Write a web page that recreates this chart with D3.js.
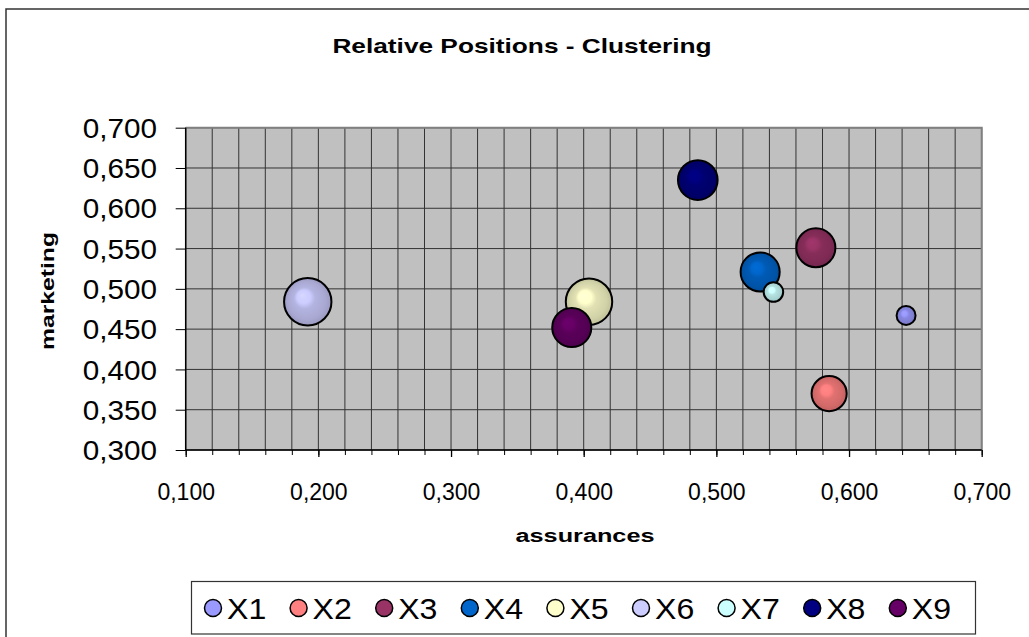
<!DOCTYPE html>
<html>
<head>
<meta charset="utf-8">
<script src="https://cdn.jsdelivr.net/npm/d3@7"></script>
<style>
  html, body { margin: 0; padding: 0; background: #fff; }
  svg { display: block; font-family: Arial, "Liberation Sans", sans-serif; }
</style>
</head>
<body>
<div id="view"></div>
<script>
// ---- data ----
const series     = ["X1", "X2", "X3", "X4", "X5", "X6", "X7", "X8", "X9"];
const assurances = [0.643, 0.585, 0.575, 0.533, 0.404, 0.192, 0.543, 0.486, 0.391];
const marketing  = [0.467, 0.370, 0.551, 0.521, 0.484, 0.484, 0.496, 0.635, 0.452];
const bubbleSize = [0.16, 0.55, 0.68, 0.68, 0.96, 1.00, 0.17, 0.70, 0.68];
const colors     = ["#9999FF", "#FF8080", "#993366", "#0066CC", "#FFFFCC",
                    "#CCCCFF", "#CCFFFF", "#000080", "#660066"];
const xTickValues = [0.1, 0.2, 0.3, 0.4, 0.5, 0.6, 0.7];
const yTickValues = [0.30, 0.35, 0.40, 0.45, 0.50, 0.55, 0.60, 0.65, 0.70];

const title  = "Relative Positions - Clustering";
const xTitle = "assurances";
const yTitle = "marketing";

(function () {
  const W = 1029, H = 637;
  const P = { l: 185.7, t: 127.7, r: 981.7, b: 450 };

  const fr = d3.formatLocale({ decimal: ",", thousands: ".", grouping: [3], currency: ["", ""] });
  const fmt = fr.format(".3f");

  const data = series.map((s, i) => ({
    name: s, x: assurances[i], y: marketing[i], size: bubbleSize[i], color: colors[i]
  }));

  const x = d3.scaleLinear().domain([0.1, 0.7]).range([P.l, P.r]);
  const y = d3.scaleLinear().domain([0.3, 0.7]).range([P.b, P.t]);
  const r = d3.scaleSqrt().domain([0, 1]).range([0, 23.7]);

  const svg = d3.select("#view").append("svg")
    .attr("width", W).attr("height", H);

  // chart frame (runs off right/bottom edge)
  svg.append("rect")
    .attr("x", 6).attr("y", 9)
    .attr("width", W + 20).attr("height", H + 20)
    .attr("fill", "#fff")
    .attr("stroke", "#333").attr("stroke-width", 1.5);

  // gradients for 3-D bubbles
  const defs = svg.append("defs");
  data.forEach((d, i) => {
    const c = d3.color(d.color);
    const g = defs.append("radialGradient")
      .attr("id", "bub" + i)
      .attr("cx", "50%").attr("cy", "50%").attr("r", "50%")
      .attr("fx", "38%").attr("fy", "36%");
    g.append("stop").attr("offset", "0%").attr("stop-color", c.brighter(0.15));
    g.append("stop").attr("offset", "28%").attr("stop-color", c);
    g.append("stop").attr("offset", "45%").attr("stop-color", c.darker(0.35));
    g.append("stop").attr("offset", "80%").attr("stop-color", c.darker(0.55));
    g.append("stop").attr("offset", "100%").attr("stop-color", c.darker(0.8));
  });

  // plot area
  svg.append("rect")
    .attr("x", P.l).attr("y", P.t)
    .attr("width", P.r - P.l).attr("height", P.b - P.t)
    .attr("fill", "#C0C0C0");

  const grid = svg.append("g").attr("stroke", "#333").attr("stroke-width", 1);
  grid.selectAll("line.v")
    .data(x.ticks(30))
    .join("line")
    .attr("class", "v")
    .attr("x1", d => x(d)).attr("x2", d => x(d))
    .attr("y1", P.t).attr("y2", P.b);
  grid.selectAll("line.h")
    .data(yTickValues)
    .join("line")
    .attr("class", "h")
    .attr("x1", P.l).attr("x2", P.r)
    .attr("y1", d => y(d)).attr("y2", d => y(d));

  // border top/right gray
  svg.append("path")
    .attr("d", `M${P.l},${P.t}H${P.r}V${P.b}`)
    .attr("fill", "none").attr("stroke", "#808080").attr("stroke-width", 2);

  // x axis: minor + major ticks
  svg.append("g")
    .attr("transform", `translate(0,${P.b})`)
    .call(d3.axisBottom(x).tickValues(x.ticks(30)).tickSize(5).tickFormat(""))
    .call(g => g.select(".domain").remove())
    .selectAll("line").attr("stroke", "#000");

  const xAxis = svg.append("g")
    .attr("transform", `translate(0,${P.b})`)
    .call(d3.axisBottom(x).tickValues(xTickValues).tickSize(7).tickFormat(fmt).tickPadding(27));
  xAxis.select(".domain").remove();
  xAxis.selectAll("line").attr("stroke", "#000").attr("stroke-width", 1.3);
  xAxis.selectAll("text")
    .attr("fill", "#000")
    .style("font-size", "23px");

  const YS = 1.1;
  const yAxis = svg.append("g")
    .attr("transform", `translate(${P.l},0)`)
    .call(d3.axisLeft(y).tickValues(yTickValues).tickSize(10).tickFormat(fmt));
  yAxis.select(".domain").remove();
  yAxis.selectAll("line").attr("stroke", "#000");
  yAxis.selectAll("text")
    .attr("fill", "#000")
    .attr("x", -28.7 / YS)
    .attr("dy", "0.36em")
    .style("font-size", "27px")
    .attr("transform", `scale(${YS},1)`);

  // axis lines
  svg.append("path")
    .attr("d", `M${P.l},${P.t}V${P.b}H${P.r}`)
    .attr("fill", "none").attr("stroke", "#000").attr("stroke-width", 1.5);

  // bubbles
  svg.append("g")
    .selectAll("circle")
    .data(data)
    .join("circle")
    .attr("cx", d => x(d.x))
    .attr("cy", d => y(d.y))
    .attr("r", d => r(d.size))
    .attr("fill", (d, i) => `url(#bub${i})`)
    .attr("stroke", "#000")
    .attr("stroke-width", 2);

  // stretched text helper
  const label = (tx, ty, txt, size, sx, rot) =>
    svg.append("text")
      .attr("transform", `translate(${tx},${ty})` + (rot ? ` rotate(${rot})` : "") + ` scale(${sx},1)`)
      .attr("text-anchor", "middle")
      .style("font-size", size + "px")
      .style("font-weight", "bold")
      .attr("fill", "#000")
      .text(txt);

  label(522, 53, title, 21, 1.25);
  label(585, 542, xTitle, 19, 1.33);
  label(54, 291, yTitle, 19, 1.3, -90);

  // legend
  const lg = svg.append("g");
  lg.append("rect")
    .attr("x", 191.5).attr("y", 581.5)
    .attr("width", 784).attr("height", 52.5)
    .attr("fill", "#fff").attr("stroke", "#333").attr("stroke-width", 1.2);

  const items = lg.selectAll("g.item")
    .data(data)
    .join("g")
    .attr("class", "item")
    .attr("transform", (d, i) => `translate(${213 + i * 85.6},608)`);
  items.append("circle")
    .attr("r", 8.5)
    .attr("fill", d => d.color)
    .attr("stroke", "#000").attr("stroke-width", 1.5);
  items.append("text")
    .attr("transform", `translate(14,11) scale(1.07,1)`)
    .style("font-size", "30px")
    .attr("fill", "#000")
    .text(d => d.name);
})();
</script>
</body>
</html>
